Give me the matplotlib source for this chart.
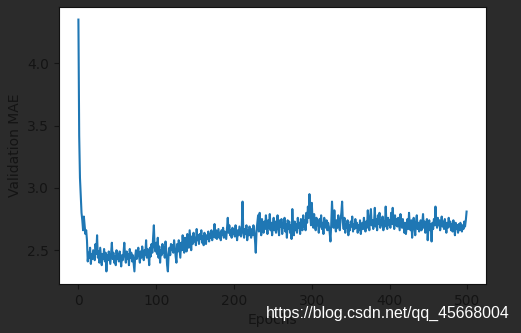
import matplotlib
matplotlib.use("Agg")
import matplotlib.pyplot as plt

epochs_label = "Epochs"
ylabel = "Validation MAE"
watermark = "https://blog.csdn.net/qq_45668004"

val_mae = [
    4.35, 3.42, 3.08, 2.93, 2.80, 2.74, 2.66, 2.77, 2.70, 2.63,
    2.66, 2.58, 2.41, 2.48, 2.44, 2.52, 2.39, 2.47, 2.43, 2.50,
    2.46, 2.42, 2.55, 2.47, 2.62, 2.44, 2.49, 2.40, 2.52, 2.45,
    2.38, 2.47, 2.43, 2.51, 2.41, 2.48, 2.33, 2.46, 2.42, 2.49,
    2.44, 2.39, 2.47, 2.56, 2.43, 2.48, 2.40, 2.45, 2.38, 2.50,
    2.43, 2.47, 2.41, 2.49, 2.44, 2.37, 2.46, 2.42, 2.48, 2.56,
    2.45, 2.40, 2.49, 2.43, 2.47, 2.38, 2.51, 2.44, 2.48, 2.41,
    2.46, 2.39, 2.33, 2.45, 2.50, 2.43, 2.48, 2.52, 2.45, 2.40,
    2.49, 2.44, 2.53, 2.47, 2.42, 2.50, 2.46, 2.58, 2.44, 2.51,
    2.47, 2.38, 2.52, 2.45, 2.55, 2.48, 2.60, 2.70, 2.52, 2.49,
    2.56, 2.47, 2.60, 2.44, 2.53, 2.40, 2.50, 2.46, 2.55, 2.48,
    2.52, 2.44, 2.57, 2.49, 2.38, 2.33, 2.47, 2.52, 2.46, 2.55,
    2.50, 2.54, 2.48, 2.58, 2.52, 2.45, 2.40, 2.55, 2.49, 2.58,
    2.51, 2.44, 2.56, 2.50, 2.62, 2.53, 2.48, 2.60, 2.55, 2.49,
    2.63, 2.56, 2.52, 2.66, 2.58, 2.50, 2.61, 2.55, 2.64, 2.57,
    2.60, 2.54, 2.67, 2.58, 2.62, 2.55, 2.63, 2.59, 2.66, 2.56,
    2.61, 2.54, 2.64, 2.58, 2.55, 2.62, 2.59, 2.65, 2.57, 2.63,
    2.60, 2.66, 2.58, 2.64, 2.61, 2.71, 2.60, 2.66, 2.59, 2.63,
    2.67, 2.60, 2.64, 2.58, 2.66, 2.62, 2.68, 2.60, 2.65, 2.62,
    2.59, 2.68, 2.76, 2.64, 2.70, 2.62, 2.66, 2.60, 2.68, 2.63,
    2.67, 2.61, 2.70, 2.64, 2.58, 2.66, 2.62, 2.69, 2.65, 2.61,
    2.68, 2.89, 2.64, 2.60, 2.67, 2.63, 2.70, 2.58, 2.66, 2.62,
    2.69, 2.64, 2.60, 2.67, 2.62, 2.70, 2.65, 2.58, 2.48, 2.66,
    2.72, 2.78, 2.65, 2.80, 2.70, 2.62, 2.75, 2.68, 2.64, 2.73,
    2.67, 2.78, 2.70, 2.63, 2.74, 2.68, 2.79, 2.66, 2.72, 2.62,
    2.70, 2.76, 2.66, 2.73, 2.64, 2.71, 2.78, 2.67, 2.62, 2.74,
    2.69, 2.75, 2.63, 2.72, 2.68, 2.76, 2.65, 2.71, 2.60, 2.74,
    2.67, 2.73, 2.64, 2.70, 2.59, 2.83, 2.68, 2.62, 2.73, 2.66,
    2.71, 2.64, 2.76, 2.68, 2.72, 2.63, 2.75, 2.70, 2.66, 2.78,
    2.69, 2.74, 2.66, 2.80, 2.72, 2.85, 2.76, 2.95, 2.78, 2.70,
    2.88, 2.74, 2.68, 2.79, 2.71, 2.66, 2.76, 2.70, 2.73, 2.64,
    2.75, 2.69, 2.78, 2.67, 2.72, 2.63, 2.76, 2.70, 2.68, 2.74,
    2.66, 2.72, 2.69, 2.64, 2.57, 2.71, 2.89, 2.75, 2.68, 2.82,
    2.70, 2.65, 2.74, 2.68, 2.78, 2.71, 2.66, 2.75, 2.80, 2.89,
    2.72, 2.67, 2.76, 2.64, 2.71, 2.68, 2.74, 2.62, 2.70, 2.66,
    2.73, 2.69, 2.77, 2.65, 2.71, 2.67, 2.75, 2.68, 2.72, 2.64,
    2.70, 2.66, 2.74, 2.63, 2.69, 2.72, 2.67, 2.76, 2.70, 2.65,
    2.73, 2.68, 2.82, 2.71, 2.66, 2.77, 2.83, 2.70, 2.74, 2.67,
    2.72, 2.84, 2.69, 2.75, 2.66, 2.78, 2.71, 2.80, 2.68, 2.74,
    2.70, 2.77, 2.66, 2.73, 2.69, 2.85, 2.72, 2.67, 2.76, 2.70,
    2.74, 2.68, 2.80, 2.71, 2.84, 2.73, 2.67, 2.78, 2.70, 2.75,
    2.69, 2.76, 2.71, 2.66, 2.79, 2.72, 2.68, 2.75, 2.70, 2.64,
    2.72, 2.63, 2.69, 2.75, 2.67, 2.80, 2.70, 2.66, 2.74, 2.60,
    2.71, 2.76, 2.68, 2.62, 2.73, 2.78, 2.67, 2.72, 2.65, 2.70,
    2.74, 2.66, 2.71, 2.79, 2.68, 2.73, 2.64, 2.70, 2.75, 2.58,
    2.69, 2.74, 2.66, 2.71, 2.57, 2.72, 2.67, 2.75, 2.70, 2.85,
    2.72, 2.68, 2.76, 2.70, 2.74, 2.66, 2.71, 2.77, 2.69, 2.73,
    2.67, 2.75, 2.70, 2.64, 2.72, 2.68, 2.76, 2.69, 2.73, 2.66,
    2.71, 2.65, 2.74, 2.69, 2.62, 2.72, 2.67, 2.70, 2.64, 2.71,
    2.66, 2.72, 2.68, 2.65, 2.70, 2.67, 2.73, 2.69, 2.74, 2.81,
]
epochs = list(range(len(val_mae)))

W, H = 521, 333
bg = "#2b2b2b"
txt = "#141414"

fig = plt.figure(figsize=(W / 100, H / 100), dpi=100, facecolor=bg)
ax = fig.add_axes([59 / W, 1 - 284 / H, (486 - 59) / W, (284 - 7) / H])
ax.set_facecolor("white")
ax.plot(epochs, val_mae, color="#1f77b4", linewidth=1.5)

ax.set_xticks([0, 100, 200, 300, 400, 500])
ax.set_yticks([2.5, 3.0, 3.5, 4.0])
ax.tick_params(colors=txt, labelcolor=txt, labelsize=10)
for s in ax.spines.values():
    s.set_color("#111111")
ax.set_xlabel(epochs_label, color=txt, fontsize=10)
ax.set_ylabel(ylabel, color=txt, fontsize=10)

fig.text(510 / W, 1 - 313 / H, watermark, color="white", fontsize=11.4,
         family="Liberation Sans", ha="right", va="center")

fig.savefig("out.png", dpi=100, facecolor=bg)
